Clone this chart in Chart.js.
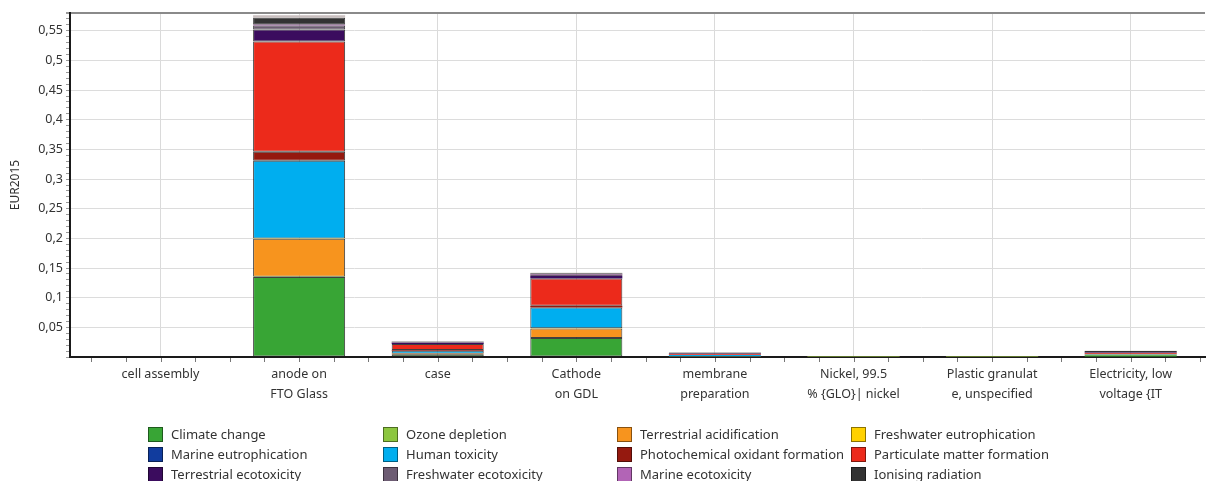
<!DOCTYPE html>
<html>
<head>
<meta charset="utf-8">
<script src="https://cdn.jsdelivr.net/npm/chart.js@4/dist/chart.umd.min.js"></script>
<style>
  html, body { margin: 0; padding: 0; background: #fff; overflow: hidden; }
  canvas { display: block; }
</style>
</head>
<body>
<canvas id="chart" width="1207" height="481"></canvas>
<script>
// Process steps on the x axis (multi-line labels)
const categories = [
  ['cell assembly'],
  ['anode on', 'FTO Glass'],
  ['case'],
  ['Cathode', 'on GDL'],
  ['membrane', 'preparation'],
  ['Nickel, 99.5', '% {GLO}| nickel'],
  ['Plastic granulat', 'e, unspecified'],
  ['Electricity, low', 'voltage {IT']
];

// Labelled values on the y axis (EUR2015)
const yTickValues = [0.05, 0.1, 0.15, 0.2, 0.25, 0.3, 0.35, 0.4, 0.45, 0.5, 0.55];

// Monetised impact per category, EUR2015
const climateChange        = [0, 0.135,  0.0045, 0.032,  0.001,  0.0002, 0.0002, 0.003];
const ozoneDepletion       = [0, 0.0005, 0,      0.0002, 0,      0,      0,      0.0001];
const terrAcidification    = [0, 0.064,  0.001,  0.016,  0.0002, 0.0001, 0.0001, 0.0005];
const fwEutrophication     = [0, 0.0003, 0,      0.0001, 0,      0,      0,      0];
const marineEutrophication = [0, 0.0002, 0,      0.0001, 0,      0,      0,      0];
const humanToxicity        = [0, 0.131,  0.005,  0.035,  0.002,  0.0002, 0.0002, 0.001];
const photochemOxidant     = [0, 0.015,  0.0015, 0.003,  0.0003, 0.0001, 0.0001, 0.001];
const particulateMatter    = [0, 0.186,  0.010,  0.046,  0.001,  0.0002, 0.0002, 0.001];
const terrEcotoxicity      = [0, 0.020,  0.0015, 0.004,  0.001,  0.0001, 0.0001, 0.001];
const fwEcotoxicity        = [0, 0.007,  0.001,  0.002,  0.0005, 0.0002, 0.0002, 0.0005];
const marineEcotoxicity    = [0, 0.001,  0.0003, 0.0005, 0.0001, 0,      0,      0.0001];
const ionisingRadiation    = [0, 0.012,  0.001,  0.002,  0.001,  0.0004, 0.0004, 0.002];
const agriLandOccupation   = [0, 0.004,  0.0005, 0.001,  0.0005, 0.0003, 0.0003, 0.0005];

const series = [
  ['Climate change', climateChange, '#38a535'],
  ['Ozone depletion', ozoneDepletion, '#8cc63f'],
  ['Terrestrial acidification', terrAcidification, '#f7941e'],
  ['Freshwater eutrophication', fwEutrophication, '#ffd100'],
  ['Marine eutrophication', marineEutrophication, '#113c9e'],
  ['Human toxicity', humanToxicity, '#00aeef'],
  ['Photochemical oxidant formation', photochemOxidant, '#95190f'],
  ['Particulate matter formation', particulateMatter, '#ec2a1b'],
  ['Terrestrial ecotoxicity', terrEcotoxicity, '#3b0c5e'],
  ['Freshwater ecotoxicity', fwEcotoxicity, '#6d5c73'],
  ['Marine ecotoxicity', marineEcotoxicity, '#b264b6'],
  ['Ionising radiation', ionisingRadiation, '#333333'],
  ['Agricultural land occupation', agriLandOccupation, '#c9bfbf']
];

const FONT = '"Noto Sans", "Open Sans", sans-serif';

// Empty space left of the first step and right of the last one, in category units
const leadGap = 0.153;
const trailGap = 0.036;

// Small tick marks along the category axis, every quarter of a step
const xMinorTicks = {
  id: 'xMinorTicks',
  afterDraw(chart) {
    const sx = chart.scales.x;
    const y0 = chart.chartArea.bottom;
    const ctx = chart.ctx;
    ctx.save();
    ctx.strokeStyle = '#777';
    ctx.lineWidth = 1;
    ctx.beginPath();
    for (let v = -0.5; v <= categories.length - 0.5 + 1e-9; v += 0.25) {
      const px = Math.round(sx.getPixelForValue(v)) + 0.5;
      ctx.moveTo(px, y0 + 1);
      ctx.lineTo(px, y0 + 5);
    }
    ctx.stroke();
    ctx.restore();
  }
};

// Legend laid out as a four-column grid under the axis
const gridLegend = {
  id: 'gridLegend',
  afterDraw(chart) {
    const ctx = chart.ctx;
    const colX = [148, 383, 617, 851];
    const rowY0 = 434, rowH = 20;
    ctx.save();
    ctx.font = '13px ' + FONT;
    ctx.textBaseline = 'middle';
    ctx.textAlign = 'left';
    chart.data.datasets.forEach((ds, i) => {
      const x = colX[i % 4];
      const y = rowY0 + Math.floor(i / 4) * rowH;
      ctx.fillStyle = ds.backgroundColor;
      ctx.fillRect(x, y - 7, 15, 15);
      ctx.strokeStyle = 'rgba(0,0,0,0.45)';
      ctx.lineWidth = 1;
      ctx.strokeRect(x + 0.5, y - 6.5, 14, 14);
      ctx.fillStyle = '#333';
      ctx.fillText(ds.label, x + 23, y + 1);
    });
    ctx.restore();
  }
};

// Outline a segment only when it is tall enough for the outline to read
function segmentBorder(ctx) {
  const v = ctx.raw;
  const sy = ctx.chart.scales.y;
  if (!v || !sy) return 0;
  const h = Math.abs(sy.getPixelForValue(0) - sy.getPixelForValue(v));
  return h >= 2.5 ? 1 : 0;
}

new Chart(document.getElementById('chart'), {
  type: 'bar',
  data: {
    labels: categories,
    datasets: series.map(([label, data, color]) => ({
      label,
      data,
      backgroundColor: color,
      borderColor: 'rgba(30,30,30,0.85)',
      borderWidth: segmentBorder,
      borderSkipped: false,
      categoryPercentage: 1,
      barPercentage: 0.664
    }))
  },
  options: {
    responsive: false,
    animation: false,
    devicePixelRatio: 1,
    layout: { padding: { top: 13, right: 2, bottom: 76, left: 0 } },
    plugins: {
      legend: { display: false },
      tooltip: { enabled: false },
      title: { display: false }
    },
    scales: {
      x: {
        stacked: true,
        offset: true,
        afterFit(scale) { scale.height = 48; },
        afterBuildTicks(scale) {
          scale._startValue = -0.5 - leadGap;
          scale._valueRange = categories.length + leadGap + trailGap;
        },
        grid: { offset: false, color: '#dadada', lineWidth: 1, drawTicks: false },
        border: { color: '#1a1a1a', width: 2 },
        ticks: {
          autoSkip: false,
          maxRotation: 0,
          minRotation: 0,
          padding: 7,
          color: '#333',
          font: { family: FONT, size: 12.5, lineHeight: '20px' }
        }
      },
      y: {
        stacked: true,
        min: 0,
        max: 0.58,
        afterFit(scale) { scale.width = 70; },
        title: {
          display: true,
          text: 'EUR2015',
          color: '#333',
          padding: { top: 8, bottom: 0 },
          font: { family: FONT, size: 12 }
        },
        grid: {
          color(ctx) {
            const t = ctx.tick;
            if (!t) return 'transparent';
            if (ctx.index === ctx.scale.ticks.length - 1) return '#8a8a8a';
            return yTickValues.some(v => Math.abs(v - t.value) < 1e-6) ? '#dcdcdc' : 'transparent';
          },
          lineWidth(ctx) {
            return ctx.index === ctx.scale.ticks.length - 1 ? 2 : 1;
          },
          tickColor: '#999',
          tickLength: 4,
          drawTicks: true
        },
        border: { color: '#1a1a1a', width: 2 },
        ticks: {
          stepSize: 0.01,
          autoSkip: false,
          padding: 3,
          color: '#333',
          font: { family: FONT, size: 12.5 },
          callback(value) {
            const hit = yTickValues.find(v => Math.abs(v - value) < 1e-6);
            return hit === undefined ? '' : String(hit).replace('.', ',');
          }
        }
      }
    }
  },
  plugins: [xMinorTicks, gridLegend]
});
</script>
</body>
</html>
